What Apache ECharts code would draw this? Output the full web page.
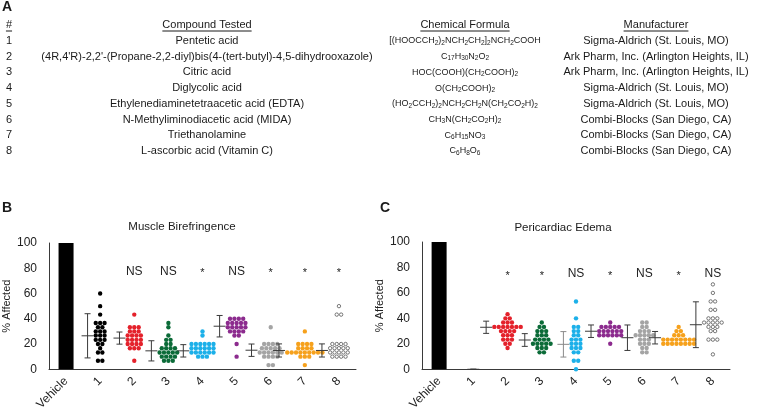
<!DOCTYPE html>
<html>
<head>
<meta charset="utf-8">
<script src="https://cdn.jsdelivr.net/npm/echarts@6/dist/echarts.min.js"></script>
<style>
  html, body { margin: 0; padding: 0; background: #fff; }
  #main { width: 766px; height: 413px; }
</style>
</head>
<body>
<div id="main"></div>
<script>
// ---- table (panel A) ----
const rowNumbers = ['1', '2', '3', '4', '5', '6', '7', '8'];
const compounds = [
  'Pentetic acid',
  "(4R,4'R)-2,2'-(Propane-2,2-diyl)bis(4-(tert-butyl)-4,5-dihydrooxazole)",
  'Citric acid',
  'Diglycolic acid',
  'Ethylenediaminetetraacetic acid (EDTA)',
  'N-Methyliminodiacetic acid (MIDA)',
  'Triethanolamine',
  'L-ascorbic acid (Vitamin C)'
];
// "_n" = subscript
const formulas = [
  '[(HOOCCH_2)_2NCH_2CH_2]_2NCH_2COOH',
  'C_17H_30N_2O_2',
  'HOC(COOH)(CH_2COOH)_2',
  'O(CH_2COOH)_2',
  '(HO_2CCH_2)_2NCH_2CH_2N(CH_2CO_2H)_2',
  'CH_3N(CH_2CO_2H)_2',
  'C_6H_15NO_3',
  'C_6H_8O_6'
];
const manufacturers = [
  'Sigma-Aldrich (St. Louis, MO)',
  'Ark Pharm, Inc. (Arlington Heights, IL)',
  'Ark Pharm, Inc. (Arlington Heights, IL)',
  'Sigma-Aldrich (St. Louis, MO)',
  'Sigma-Aldrich (St. Louis, MO)',
  'Combi-Blocks (San Diego, CA)',
  'Combi-Blocks (San Diego, CA)',
  'Combi-Blocks (San Diego, CA)'
];

// ---- charts (panels B, C) ----
const categories = ['Vehicle', '1', '2', '3', '4', '5', '6', '7', '8'];
const vehicleValue = 100;

// % affected per animal group, compounds 1..8
const muscleDots = [
  [60, 50, 43.3, 36.7, 36.7, 36.7, 33.3, 33.3, 30, 30, 30, 26.7, 26.7, 26.7, 23.3, 23.3, 23.3, 20, 20, 16.7, 13.3, 13.3, 6.7, 6.7],
  [43.3, 33.3, 33.3, 33.3, 30, 30, 30, 26.7, 26.7, 26.7, 26.7, 23.3, 23.3, 23.3, 23.3, 20, 20, 20, 20, 16.7, 16.7, 16.7, 6.7],
  [36.7, 33.3, 26.7, 23.3, 23.3, 20, 20, 16.7, 16.7, 16.7, 16.7, 13.3, 13.3, 13.3, 13.3, 13.3, 10, 10, 10, 10, 6.7, 6.7, 6.7],
  [30, 26.7, 20, 20, 20, 20, 20, 20, 16.7, 16.7, 16.7, 16.7, 16.7, 16.7, 13.3, 13.3, 13.3, 13.3, 13.3, 13.3, 10, 10, 10],
  [40, 40, 40, 40, 36.7, 36.7, 36.7, 36.7, 36.7, 33.3, 33.3, 33.3, 33.3, 33.3, 30, 30, 30, 30, 26.7, 26.7, 20, 10],
  [33.3, 20, 20, 20, 20, 16.7, 16.7, 16.7, 16.7, 16.7, 13.3, 13.3, 13.3, 13.3, 13.3, 13.3, 10, 10, 10, 10, 3.3, 3.3],
  [30, 20, 20, 20, 20, 16.7, 16.7, 16.7, 16.7, 13.3, 13.3, 13.3, 13.3, 13.3, 13.3, 13.3, 13.3, 13.3, 10, 10, 10, 3.3],
  [50, 43.3, 43.3, 20, 20, 20, 20, 16.7, 16.7, 16.7, 16.7, 16.7, 13.3, 13.3, 13.3, 13.3, 13.3, 10, 10, 10, 10]
];
const muscleMean = [26.5, 24.7, 14.6, 14.6, 34.1, 15.1, 14.9, 14.9];
const muscleSd = [17.5, 4.8, 8, 4.9, 8.5, 4.9, 5.2, 5.2];
const muscleSig = ['', '', 'NS', 'NS', '*', 'NS', '*', '*', '*'];

const edemaDots = [
  [],
  [43.3, 40, 40, 36.7, 36.7, 36.7, 33.3, 33.3, 33.3, 33.3, 33.3, 33.3, 33.3, 30, 30, 30, 30, 26.7, 26.7, 26.7, 23.3, 23.3, 23.3, 20, 20, 16.7],
  [36.7, 33.3, 33.3, 30, 30, 30, 26.7, 26.7, 26.7, 23.3, 23.3, 23.3, 23.3, 20, 20, 20, 20, 20, 16.7, 16.7, 16.7, 13.3, 13.3],
  [53.3, 40, 33.3, 33.3, 30, 30, 26.7, 26.7, 23.3, 23.3, 23.3, 20, 20, 20, 16.7, 16.7, 16.7, 13.3, 13.3, 6.7, 6.7, 0],
  [36.7, 33.3, 33.3, 33.3, 33.3, 33.3, 30, 30, 30, 30, 30, 30, 26.7, 26.7, 26.7, 26.7, 26.7, 26.7, 20],
  [36.7, 36.7, 33.3, 33.3, 30, 30, 30, 26.7, 26.7, 26.7, 26.7, 26.7, 23.3, 23.3, 23.3, 20, 20, 20, 16.7, 16.7, 13.3, 13.3],
  [33.3, 30, 30, 26.7, 26.7, 26.7, 23.3, 23.3, 23.3, 23.3, 23.3, 23.3, 23.3, 23.3, 20, 20, 20, 20, 20, 20, 20, 20],
  [66.7, 60, 53.3, 53.3, 46.7, 46.7, 40, 40, 40, 36.7, 36.7, 36.7, 36.7, 36.7, 33.3, 33.3, 33.3, 30, 30, 23.3, 23.3, 23.3, 11.7]
];
const edemaMean = [0, 33, 23, 19.6, 29.9, 24.8, 24.8, 35];
const edemaSd = [0, 4.8, 5, 10, 4.9, 10, 4.9, 18];
const edemaSig = ['', '', '*', '*', 'NS', '*', 'NS', '*', 'NS'];

const groupColors = ['#000000', '#e4212b', '#0b6b38', '#1cb0e9', '#8c2b8e', '#a4a4a4', '#f6a11c', '#ffffff'];
const FONT = '"Liberation Sans", Arial, sans-serif';
const DOT_STEP = 4.4;
const DOT_R = 2.2;

// beeswarm: dots with the same value go side by side in one row
function swarm(groups) {
  const dots = [];
  const halfWidths = [];
  groups.forEach(function (vals, g) {
    const rows = {};
    vals.forEach(function (v) { (rows[v] = rows[v] || []).push(v); });
    let maxN = 0;
    Object.keys(rows).forEach(function (key) {
      const n = rows[key].length;
      maxN = Math.max(maxN, n);
      rows[key].forEach(function (v, i) { dots.push([g + 1, v, i - (n - 1) / 2]); });
    });
    halfWidths.push(maxN ? (maxN - 1) / 2 : -1);
  });
  return { dots: dots, halfWidths: halfWidths };
}

function panelSeries(idx, groups, means, sds, sig, sigY, errColors) {
  const sw = swarm(groups);
  const errData = means.map(function (m, i) { return [i + 1, m, sds[i], sw.halfWidths[i]]; });
  const sigData = sig.map(function (s, i) { return [i, sigY]; });
  return [
    {
      type: 'bar', xAxisIndex: idx, yAxisIndex: idx, barWidth: 15,
      itemStyle: { color: '#000' },
      data: categories.map(function (c, i) { return i === 0 ? vehicleValue : '-'; })
    },
    {
      type: 'custom', xAxisIndex: idx, yAxisIndex: idx,
      data: sw.dots,
      renderItem: function (params, api) {
        const g = api.value(0);
        const p = api.coord([g, api.value(1)]);
        const open = g === 8;
        return {
          type: 'circle',
          shape: { cx: p[0] + api.value(2) * DOT_STEP, cy: p[1], r: open ? 1.7 : DOT_R },
          style: open ? { fill: '#fff', stroke: '#555', lineWidth: 0.8 } : { fill: groupColors[g - 1] }
        };
      }
    },
    {
      type: 'custom', xAxisIndex: idx, yAxisIndex: idx,
      data: errData,
      renderItem: function (params, api) {
        const cat = api.value(0), m = api.value(1), sd = api.value(2), hw = api.value(3);
        const c = api.coord([cat, m]);
        const hi = api.coord([cat, m + sd]);
        const lo = api.coord([cat, m - sd]);
        const x = hw < 0 ? c[0] : c[0] - (hw * DOT_STEP + DOT_R + 6);
        const st = { stroke: errColors[params.dataIndex], lineWidth: 1 };
        return {
          type: 'group',
          children: [
            { type: 'line', shape: { x1: x, y1: hi[1], x2: x, y2: lo[1] }, style: st },
            { type: 'line', shape: { x1: x - 3, y1: hi[1], x2: x + 3, y2: hi[1] }, style: st },
            { type: 'line', shape: { x1: x - 3, y1: lo[1], x2: x + 3, y2: lo[1] }, style: st },
            { type: 'line', shape: { x1: x - 6, y1: c[1], x2: x + 6, y2: c[1] }, style: st }
          ]
        };
      }
    },
    {
      type: 'custom', xAxisIndex: idx, yAxisIndex: idx,
      data: sigData,
      renderItem: function (params, api) {
        const s = sig[params.dataIndex];
        if (!s) return;
        const p = api.coord([api.value(0), api.value(1)]);
        const star = s === '*';
        return {
          type: 'text', x: p[0], y: p[1] + (star ? 2 : 0),
          style: {
            text: s, fill: '#222', fontFamily: FONT, fontSize: star ? 11 : 12,
            textAlign: 'center', textVerticalAlign: 'middle'
          }
        };
      }
    }
  ];
}

function axisPair(gridIdx) {
  return {
    x: {
      type: 'category', gridIndex: gridIdx, data: categories,
      axisTick: { show: false },
      axisLine: { lineStyle: { color: '#3a3a3a', width: 1 } },
      axisLabel: { rotate: 45, interval: 0, margin: 10, fontSize: 12, color: '#222', fontFamily: FONT }
    },
    y: {
      type: 'value', gridIndex: gridIdx, min: 0, max: 100, interval: 20,
      name: '% Affected', nameLocation: 'middle', nameGap: 37,
      nameTextStyle: { fontSize: 11, color: '#222', fontFamily: FONT },
      axisLine: { show: true, lineStyle: { color: '#3a3a3a', width: 1 } },
      axisTick: { show: false },
      splitLine: { show: false },
      axisLabel: { fontSize: 12, color: '#222', margin: 12, fontFamily: FONT }
    }
  };
}

// text width for the header underlines
const measureCtx = document.createElement('canvas').getContext('2d');
function textWidth(t, size) {
  measureCtx.font = size + 'px ' + FONT;
  return measureCtx.measureText(t).width;
}

const graphics = [];
function addText(t, x, y, size, opts) {
  graphics.push({
    type: 'text', x: x, y: y,
    style: Object.assign({
      text: t, fill: '#1a1a1a', fontFamily: FONT, fontSize: size,
      textAlign: 'center', textVerticalAlign: 'middle'
    }, opts || {})
  });
}
function addHeader(t, cx, y) {
  addText(t, cx, y, 11);
  const w = textWidth(t, 11);
  graphics.push({
    type: 'line', shape: { x1: cx - w / 2, y1: y + 6, x2: cx + w / 2, y2: y + 6 },
    style: { stroke: '#1a1a1a', lineWidth: 1 }
  });
}

const colNum = 9, colCompound = 207, colFormula = 465, colMaker = 656;
const headerY = 25, firstRowY = 41, rowStep = 15.7;

addText('A', 2, 7, 14, { fontWeight: 'bold', textAlign: 'left' });
addHeader('#', colNum, headerY);
addHeader('Compound Tested', colCompound, headerY);
addHeader('Chemical Formula', colFormula, headerY);
addHeader('Manufacturer', colMaker, headerY);
rowNumbers.forEach(function (n, i) {
  const y = firstRowY + i * rowStep;
  addText(n, colNum, y, 11);
  addText(compounds[i], colCompound, y, 11);
  addText(formulas[i].replace(/_(\d+)/g, '{s|$1}'), colFormula, y, 9, {
    rich: { s: { fontSize: 6.5, fontFamily: FONT, fill: '#1a1a1a', verticalAlign: 'bottom', padding: [4, 0, 0, 0] } }
  });
  addText(manufacturers[i], colMaker, y, 11);
});

addText('B', 2, 208, 14, { fontWeight: 'bold', textAlign: 'left' });
addText('Muscle Birefringence', 182, 227, 11.5);
addText('C', 380, 208, 14, { fontWeight: 'bold', textAlign: 'left' });
addText('Pericardiac Edema', 563, 228, 11.5);

const axB = axisPair(0), axC = axisPair(1);
const errColorsB = ['#3a3a3a', '#3a3a3a', '#3a3a3a', '#3a3a3a', '#3a3a3a', '#3a3a3a', '#3a3a3a', '#3a3a3a'];
const errColorsC = ['#3a3a3a', '#3a3a3a', '#3a3a3a', '#8a8a8a', '#3a3a3a', '#3a3a3a', '#3a3a3a', '#3a3a3a'];

const chart = echarts.init(document.getElementById('main'), null, { renderer: 'canvas' });
chart.setOption({
  backgroundColor: '#fff',
  animation: false,
  grid: [
    { left: 48, right: 410, top: 243, bottom: 40 },
    { left: 422, right: 36, top: 242, bottom: 40 }
  ],
  xAxis: [axB.x, axC.x],
  yAxis: [axB.y, axC.y],
  graphic: graphics,
  series: panelSeries(0, muscleDots, muscleMean, muscleSd, muscleSig, 77.5, errColorsB)
    .concat(panelSeries(1, edemaDots, edemaMean, edemaSd, edemaSig, 75, errColorsC))
});
</script>
</body>
</html>
